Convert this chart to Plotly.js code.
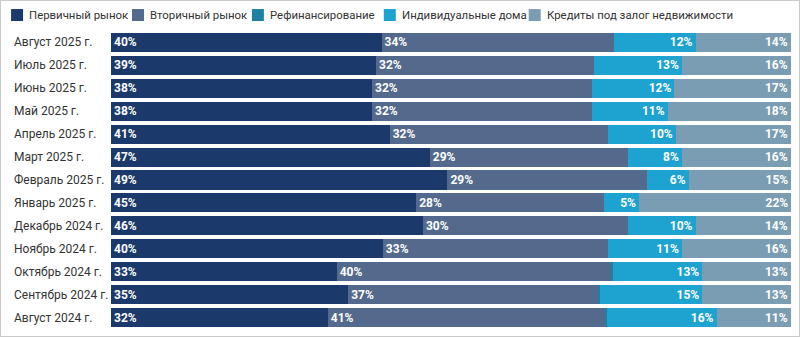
<!DOCTYPE html>
<html>
<head>
<meta charset="utf-8">
<script src="https://cdn.plot.ly/plotly-3.0.1.min.js"></script>
<style>
html,body{margin:0;padding:0;background:#fff;}
#wrap{position:relative;width:800px;height:337px;}
#chart{width:800px;height:337px;}
#frame{position:absolute;left:0;top:0;width:800px;height:337px;box-sizing:border-box;border:1px solid #c9c9c9;pointer-events:none;}
</style>
</head>
<body>
<div id="wrap"><div id="chart"></div><div id="frame"></div></div>
<script>
const months = ["Август 2025 г.","Июль 2025 г.","Июнь 2025 г.","Май 2025 г.","Апрель 2025 г.","Март 2025 г.","Февраль 2025 г.","Январь 2025 г.","Декабрь 2024 г.","Ноябрь 2024 г.","Октябрь 2024 г.","Сентябрь 2024 г.","Август 2024 г."];
const seriesNames = ["Первичный рынок","Вторичный рынок","Рефинансирование","Индивидуальные дома","Кредиты под залог недвижимости"];
const primary   = [39.8, 39.0, 38.4, 38.4, 41.0, 46.9, 49.5, 44.9, 45.9, 40.0, 33.2, 34.9, 31.9];
const secondary = [34.2, 32.0, 32.3, 32.3, 32.1, 29.1, 29.3, 27.7, 30.1, 33.1, 40.4, 36.8, 40.8];
const refinance = [0, 0, 0, 0, 0, 0, 0, 0, 0, 0, 0.2, 0.3, 0.3];
const houses    = [12.0, 13.0, 12.2, 11.2, 10.0, 8.0, 6.2, 5.1, 10.0, 10.9, 13.2, 15.0, 16.1];
const pledge    = [14.0, 16.0, 17.1, 18.1, 16.9, 16.0, 15.1, 22.4, 14.0, 16.0, 13.0, 13.0, 10.9];
const primaryLbl   = ["40%","39%","38%","38%","41%","47%","49%","45%","46%","40%","33%","35%","32%"];
const secondaryLbl = ["34%","32%","32%","32%","32%","29%","29%","28%","30%","33%","40%","37%","41%"];
const housesLbl    = ["12%","13%","12%","11%","10%","8%","6%","5%","10%","11%","13%","15%","16%"];
const pledgeLbl    = ["14%","16%","17%","18%","17%","16%","15%","22%","14%","16%","13%","13%","11%"];
const colors = ["#1b3a6b","#546a8d","#1f80a3","#1ea2cf","#7a9db3"];
const legendTextX = [27, 148, 268, 400, 545];

function mk(i, vals, lbl, anchor){
  return {
    type:'bar', orientation:'h', name:seriesNames[i], x:vals, y:months,
    marker:{color:colors[i], line:{width:0}},
    text: lbl || vals.map(()=>''), textposition: lbl ? 'inside' : 'none',
    insidetextanchor: anchor || 'start', constraintext:'none',
    textfont:{family:'Roboto, sans-serif', size:12, color:'#ffffff', weight:'bold'},
    hoverinfo:'none', showlegend:false
  };
}
const data = [
  mk(0, primary, primaryLbl, 'start'),
  mk(1, secondary, secondaryLbl, 'start'),
  mk(2, refinance, null),
  mk(3, houses, housesLbl, 'end'),
  mk(4, pledge, pledgeLbl, 'end')
];
const W = 800, H = 337, L = 111, R = 8.5, T = 31, B = 7.5;
const pw = W - L - R;
const ph = H - T - B;
const px2x = p => (p - L) / pw;
const py2y = p => 1 + (T - p) / ph;

const annotations = months.map(m => ({
  xref:'paper', yref:'y', x:px2x(12), y:m, xanchor:'left', yanchor:'middle',
  text:m, showarrow:false, font:{family:'Roboto, sans-serif', size:12, color:'#333333'}
}));
// legend drawn from the series names and colours
const legendY = 15;
seriesNames.forEach((n, i) => {
  annotations.push({
    xref:'paper', yref:'paper', x:px2x(legendTextX[i]), y:py2y(legendY), xanchor:'left', yanchor:'middle',
    text:n, showarrow:false, font:{family:'Roboto, sans-serif', size:11.4, color:'#333333'}
  });
});
const shapes = seriesNames.map((n, i) => ({
  type:'rect', xref:'paper', yref:'paper', layer:'above',
  x0:px2x(legendTextX[i] - 16), x1:px2x(legendTextX[i] - 4),
  y0:py2y(legendY - 6), y1:py2y(legendY + 6),
  fillcolor:colors[i], line:{width:0}
}));

const layout = {
  width:W, height:H,
  margin:{l:L, r:R, t:T, b:B, pad:0, autoexpand:false},
  barmode:'stack', bargap:0.17,
  paper_bgcolor:'#ffffff', plot_bgcolor:'#ffffff',
  xaxis:{range:[0,100.05], visible:false, fixedrange:true},
  yaxis:{type:'category', autorange:'reversed', showticklabels:false, showgrid:false, zeroline:false, ticks:''},
  showlegend:false,
  annotations: annotations,
  shapes: shapes,
  font:{family:'Roboto, sans-serif'}
};
Plotly.newPlot('chart', data, layout, {displayModeBar:false, staticPlot:true});
</script>
</body>
</html>
